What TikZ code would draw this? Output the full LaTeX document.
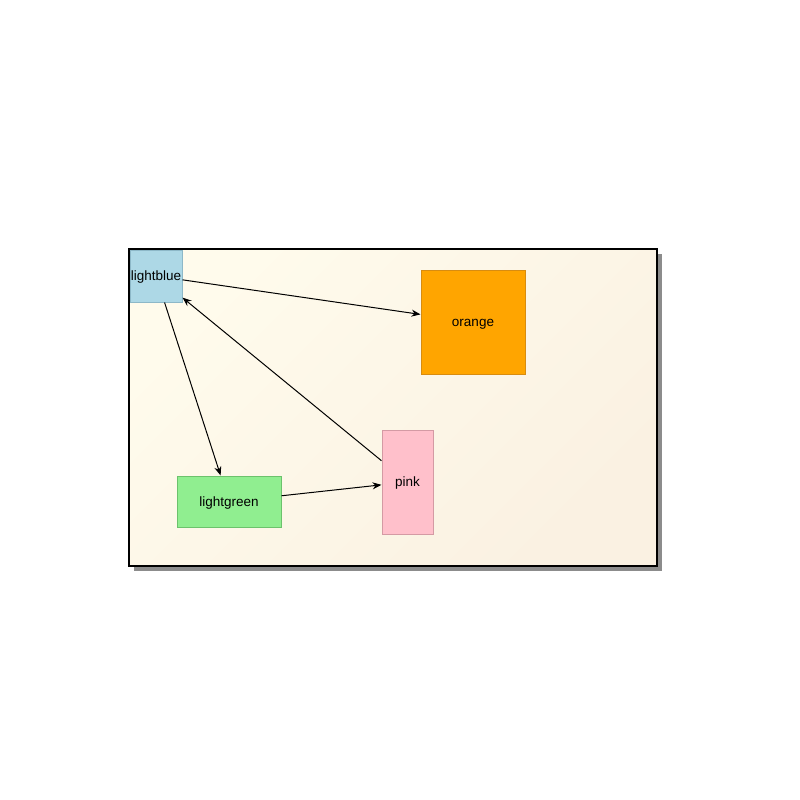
\documentclass[tikz,border=0pt]{standalone}
\usepackage{fontspec}
\setmainfont{Liberation Sans}
\usetikzlibrary{arrows.meta,shadows}
\definecolor{lbfill}{HTML}{ADD8E6}\definecolor{lbdraw}{HTML}{8DB8C8}
\definecolor{orfill}{HTML}{FFA500}\definecolor{ordraw}{HTML}{D88C10}
\definecolor{pkfill}{HTML}{FFC0CB}\definecolor{pkdraw}{HTML}{D49AA4}
\definecolor{lgfill}{HTML}{90EE90}\definecolor{lgdraw}{HTML}{6CC26C}
\definecolor{bgA}{HTML}{FFFBEC}\definecolor{bgB}{HTML}{FAF1E2}
\tikzset{
  box/.style={draw, line width=1pt, inner sep=0pt, font=\fontsize{13.5}{15}\selectfont, text depth=0pt, text height=9pt},
  conn/.style={line width=1pt, -{Stealth[length=9pt,width=7pt]}},
}
\begin{document}
\begin{tikzpicture}[x=1pt,y=-1pt]
\useasboundingbox (0,0) rectangle (800,800);
\fill[black!45] (134,254) rectangle (662,571);
\shade[left color=bgA, right color=bgB, shading angle=45] (129,249) rectangle (657,566);
\draw[line width=1.6pt] (129,249) rectangle (657,566);
\node[box, fill=lbfill, draw=lbdraw, minimum width=52pt, minimum height=52pt] (lb) at (156,276) {lightblue};
\node[box, fill=orfill, draw=ordraw, minimum width=104pt, minimum height=104pt] (or) at (473,322) {orange};
\node[box, fill=pkfill, draw=pkdraw, minimum width=51pt, minimum height=104pt] (pk) at (407.5,482) {pink};
\node[box, fill=lgfill, draw=lgdraw, minimum width=104pt, minimum height=51pt] (lg) at (229,501.5) {lightgreen};
\draw[conn] (lb) -- (or);
\draw[conn] (lb) -- (lg);
\draw[conn] (pk) -- (lb);
\draw[conn] (lg) -- (pk);
\end{tikzpicture}
\end{document}
